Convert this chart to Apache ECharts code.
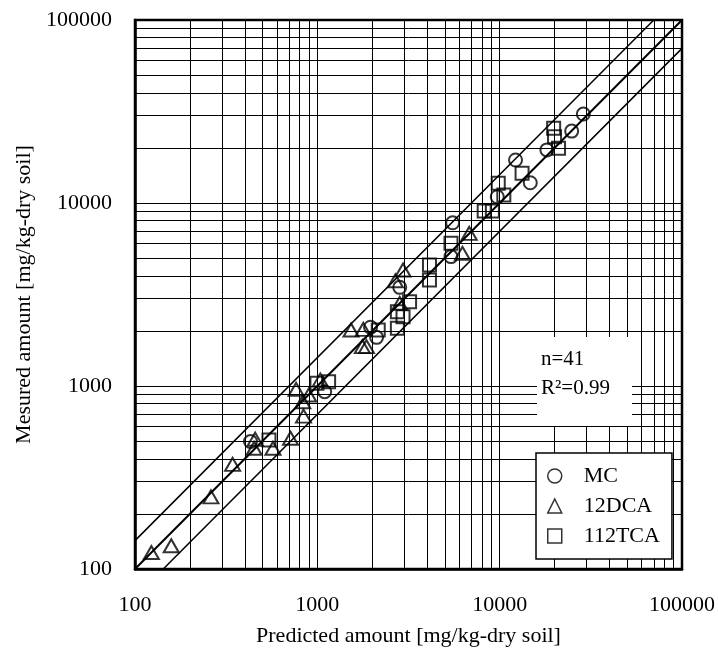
<!DOCTYPE html>
<html>
<head>
<meta charset="utf-8">
<script src="https://cdn.jsdelivr.net/npm/echarts@6/dist/echarts.min.js"></script>
<style>html,body{margin:0;padding:0;background:#fff;}#c{width:718px;height:652px;}</style>
</head>
<body>
<div id="c"></div>
<script>
// ---- data ----
var mcX = [430, 1097, 1958, 2113, 2831, 5408, 5521, 9700, 12220, 14720, 18160, 24830, 28770];
var mcY = [497, 931, 2094, 1845, 3459, 5093, 7798, 10820, 17180, 12900, 19500, 24710, 30620];

var dcaX = [123, 158, 261, 343, 456, 450, 571, 713, 765, 832, 897, 840, 1038, 1531, 1787, 1766, 1860, 2831, 2951, 2680, 6252, 6808];
var dcaY = [123, 134, 248, 373, 512, 457, 457, 518, 959, 820, 893, 685, 1079, 2023, 2040, 1640, 1640, 2831, 4305, 3758, 5308, 6823];

var tcaX = [543, 995, 1153, 2158, 2748, 2748, 2951, 3206, 4121, 4121, 5408, 8224, 9120, 9824, 10540, 13270, 19770, 20000, 21030];
var tcaY = [507, 1035, 1055, 2023, 2066, 2545, 2391, 2891, 4584, 3793, 6026, 9036, 9036, 12820, 11070, 14520, 25590, 23010, 19910];

var fitX = [100, 100000];
var fitY = [100, 100000];
var upperX = [100, 70000];
var upperY = [142.9, 100000];
var lowerX = [142.9, 100000];
var lowerY = [100, 70000];

var minorGrid = [200, 300, 400, 500, 600, 700, 800, 900,
                 2000, 3000, 4000, 5000, 6000, 7000, 8000, 9000,
                 20000, 30000, 40000, 50000, 60000, 70000, 80000, 90000];

var seriesNames = ['MC', '12DCA', '112TCA'];
var axisMin = 100, axisMax = 100000;
var annN = 'n=41';
var annR = 'R\u00B2=0.99';
var xTitle = 'Predicted amount [mg/kg-dry soil]';
var yTitle = 'Mesured amount [mg/kg-dry soil]';

// ---- build ----
var FONT = '"Liberation Serif", "Times New Roman", serif';
function zip(a, b) { return a.map(function (v, i) { return [v, b[i]]; }); }

var markData = [];
minorGrid.forEach(function (v) { markData.push({ xAxis: v }); markData.push({ yAxis: v }); });

var markerStyle = { color: 'rgba(0,0,0,0)', borderColor: '#000', borderWidth: 2 };

var chart = echarts.init(document.getElementById('c'), null, { renderer: 'canvas' });
var axisCommon = {
  type: 'log', logBase: 10, min: axisMin, max: axisMax,
  axisLine: { show: true, lineStyle: { color: '#000', width: 2.5 } },
  axisTick: { show: false },
  splitLine: { show: true, lineStyle: { color: '#000', width: 1 } },
  nameLocation: 'middle',
  nameTextStyle: { fontFamily: FONT, fontSize: 22, color: '#000' },
  axisLabel: {
    fontFamily: FONT, fontSize: 22, color: '#000',
    formatter: function (v) { return String(Math.round(v)); }
  }
};

var option = {
  animation: false,
  backgroundColor: '#fff',
  grid: { left: 135, top: 20, right: 32, bottom: 83, show: true, borderColor: '#000', borderWidth: 2.5, backgroundColor: '#fff' },
  xAxis: Object.assign({}, axisCommon, {
    name: xTitle, nameGap: 56,
    axisLabel: Object.assign({}, axisCommon.axisLabel, { margin: 25 })
  }),
  yAxis: Object.assign({}, axisCommon, {
    name: yTitle, nameGap: 84, nameRotate: 90,
    axisLabel: Object.assign({}, axisCommon.axisLabel, { margin: 23 })
  }),
  legend: {
    z: 20,
    data: seriesNames.map(function (n, i) { return { name: n, icon: ['circle', 'triangle', 'rect'][i] }; }),
    orient: 'vertical', left: 536, top: 453,
    backgroundColor: '#fff', borderColor: '#000', borderWidth: 1.5,
    padding: [12, 12, 12, 11], itemGap: 8, itemWidth: 14, itemHeight: 14,
    itemStyle: { color: 'rgba(0,0,0,0)', borderColor: '#000', borderWidth: 1.5 },
    textStyle: { fontFamily: FONT, fontSize: 22, color: '#000', lineHeight: 20, padding: [0, 0, 0, 17] }
  },
  graphic: [
    { type: 'rect', left: 537, top: 337, z: 100, shape: { width: 95, height: 89 }, style: { fill: '#fff' } },
    { type: 'text', left: 541, top: 349, z: 101, style: { text: annN, font: '21px ' + FONT, fill: '#000' } },
    { type: 'text', left: 541, top: 378, z: 101, style: { text: annR, font: '21px ' + FONT, fill: '#000' } }
  ],
  series: [
    {
      name: '_grid', type: 'line', data: [], silent: true, z: 1,
      markLine: { z: 1, silent: true, symbol: 'none', label: { show: false }, animation: false,
        lineStyle: { color: '#000', width: 1, type: 'solid' }, data: markData }
    },
    { name: '_fit', type: 'line', data: zip(fitX, fitY), symbol: 'none', silent: true, z: 3,
      lineStyle: { color: '#000', width: 2 } },
    { name: '_upper', type: 'line', data: zip(upperX, upperY), symbol: 'none', silent: true, z: 3,
      lineStyle: { color: '#000', width: 1.5 } },
    { name: '_lower', type: 'line', data: zip(lowerX, lowerY), symbol: 'none', silent: true, z: 3,
      lineStyle: { color: '#000', width: 1.5 } },
    { name: seriesNames[0], type: 'scatter', symbol: 'circle', symbolSize: 13, z: 5,
      itemStyle: markerStyle, data: zip(mcX, mcY) },
    { name: seriesNames[1], type: 'scatter', symbol: 'triangle', symbolSize: [15, 13], z: 5,
      itemStyle: markerStyle, data: zip(dcaX, dcaY) },
    { name: seriesNames[2], type: 'scatter', symbol: 'rect', symbolSize: 13, z: 5,
      itemStyle: markerStyle, data: zip(tcaX, tcaY) }
  ]
};
chart.setOption(option);
</script>
</body>
</html>
